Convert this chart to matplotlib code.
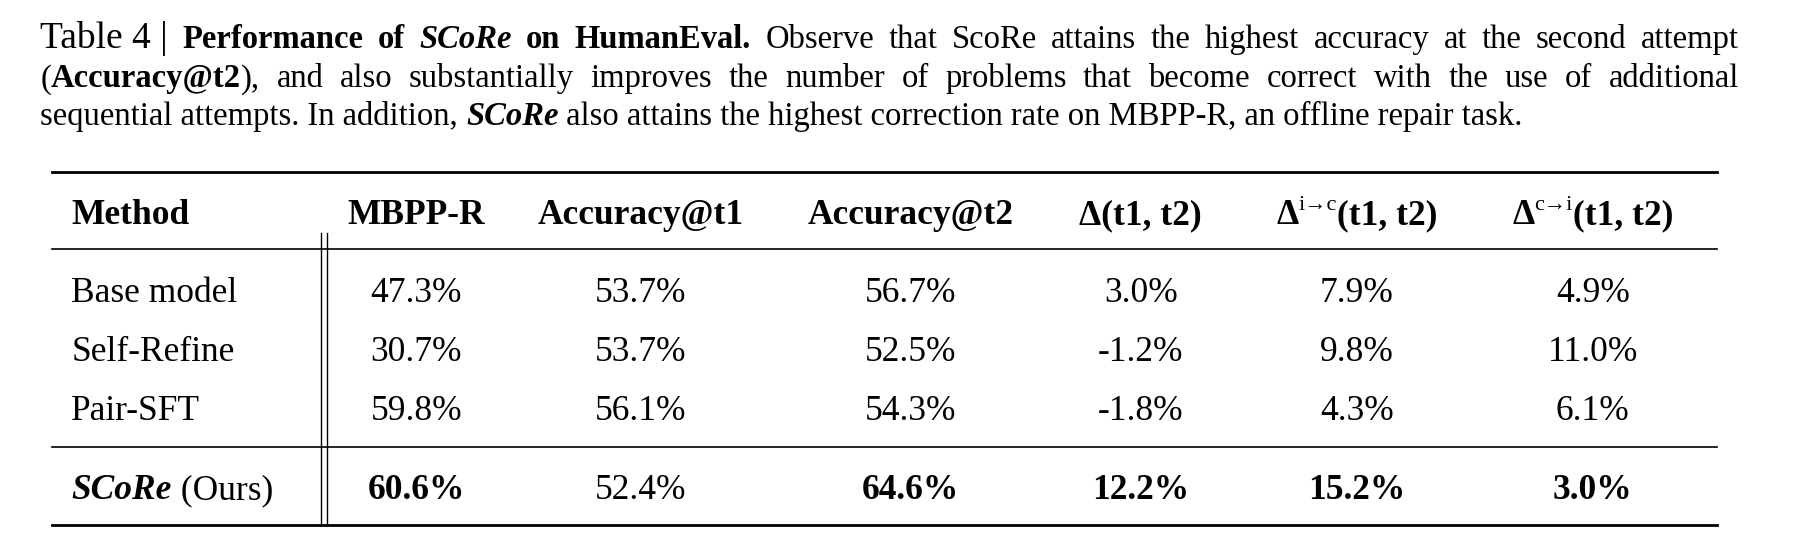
import matplotlib
matplotlib.use("Agg")
import matplotlib.pyplot as plt

methods = ["Base model", "Self-Refine", "Pair-SFT", "SCoRe"]
mbpp_r = [47.3, 30.7, 59.8, 60.6]
acc_t1 = [53.7, 53.7, 56.1, 52.4]
acc_t2 = [56.7, 52.5, 54.3, 64.6]
delta = [3.0, -1.2, -1.8, 12.2]
delta_ic = [7.9, 9.8, 4.3, 15.2]
delta_ci = [4.9, 11.0, 6.1, 3.0]
bold_last = [True, False, True, True, True, True]

W, H = 1560.0, 468.0
fig = plt.figure(figsize=(17.94, 5.38), dpi=100)
ax = fig.add_axes([0, 0, 1, 1])
ax.set_xlim(0, W); ax.set_ylim(H, 0); ax.axis("off")
FONT = "Liberation Serif"
r = fig.canvas.get_renderer()

def width(t):
    bb = t.get_window_extent(renderer=r)
    return bb.width * W / fig.bbox.width

def runs(x, y, items, align="left", target=None):
    arts = []
    for s, wgt, sty, sz, dy in items:
        t = ax.text(0, y + dy, s, fontsize=sz, fontweight=wgt, fontstyle=sty,
                    family=FONT, va="baseline", ha="left")
        arts.append((t, width(t)))
    total = sum(w for _, w in arts)
    gap = 0
    if target is not None and len(arts) > 1:
        gap = (target - total) / (len(arts) - 1)
    if align == "center":
        x = x - total / 2
    cx = x
    for t, w in arts:
        t.set_x(cx); cx += w + gap

CS = 23.5
def words(s, wgt="normal", sty="normal"):
    return [(w, wgt, sty, CS, 0) for w in s.split()]

XL, XR = 35, 1512
l1 = [("Table 4 |", "normal", "normal", 27, 0)] + words("Performance of", "bold") + \
     words("SCoRe", "bold", "italic") + words("on HumanEval.", "bold") + \
     words("Observe that ScoRe attains the highest accuracy at the second attempt")
runs(XL, 42, l1, target=XR - XL)
y2 = 76
t_open = [("(", "normal", "normal", CS, 0), ("Accuracy@t2", "bold", "normal", CS, 0), ("),", "normal", "normal", CS, 0)]
tmp = [ax.text(0, 0, s, fontsize=sz, fontweight=wg, family=FONT) for s, wg, _, sz, _ in t_open]
wfirst = sum(width(t) for t in tmp)
for t in tmp: t.remove()
rest = words("and also substantially improves the number of problems that become correct with the use of additional")
tr = [ax.text(0, 0, s, fontsize=CS, family=FONT) for s, *_ in rest]
wr = [width(t) for t in tr]
for t in tr: t.remove()
gap = (XR - XL - wfirst - sum(wr)) / len(rest)
runs(XL, y2, t_open)
cx = XL + wfirst + gap
for (s, *_), w in zip(rest, wr):
    ax.text(cx, y2, s, fontsize=CS, family=FONT, va="baseline"); cx += w + gap
l3 = [("sequential attempts. In addition, ", "normal", "normal", CS, 0), ("SCoRe", "bold", "italic", CS, 0),
      (" also attains the highest correction rate on MBPP-R, an offline repair task.", "normal", "normal", CS, 0)]
runs(XL, 109, l3)

for y, lw in [(150, 2.0), (217, 1.2), (389, 1.2), (457, 2.0)]:
    ax.plot([45, 1493], [y, y], color="black", lw=lw)
for x in (279, 284):
    ax.plot([x, x], [203, 457], color="black", lw=1.0)

TS = 25.5
cols = [362, 557, 792, 992, 1180, 1385]
hy = 195
ax.text(62, hy, "Method", fontsize=TS, fontweight="bold", family=FONT, va="baseline")
heads = ["MBPP-R", "Accuracy@t1", "Accuracy@t2", "Δ(t1, t2)"]
for x, h in zip(cols, heads):
    runs(x, hy, [(h, "bold", "normal", TS, 0)], align="center")
runs(cols[4], hy, [("Δ", "bold", "normal", TS, 0), ("i→c", "normal", "normal", 16, -12),
                   ("(t1, t2)", "bold", "normal", TS, 0)], align="center")
runs(cols[5], hy, [("Δ", "bold", "normal", TS, 0), ("c→i", "normal", "normal", 16, -12),
                   ("(t1, t2)", "bold", "normal", TS, 0)], align="center")

rows_y = [263, 314, 365, 434]
series = [mbpp_r, acc_t1, acc_t2, delta, delta_ic, delta_ci]
for i, (m, y) in enumerate(zip(methods, rows_y)):
    last = i == len(methods) - 1
    if last:
        runs(62, y, [(m, "bold", "italic", TS, 0), (" (Ours)", "normal", "normal", TS, 0)])
    else:
        ax.text(62, y, m, fontsize=TS, family=FONT, va="baseline")
    for j, (x, s) in enumerate(zip(cols, series)):
        wgt = "bold" if (last and bold_last[j]) else "normal"
        runs(x, y, [(f"{s[i]:.1f}%", wgt, "normal", TS, 0)], align="center")

fig.savefig("out.png", dpi=100, facecolor="white")
